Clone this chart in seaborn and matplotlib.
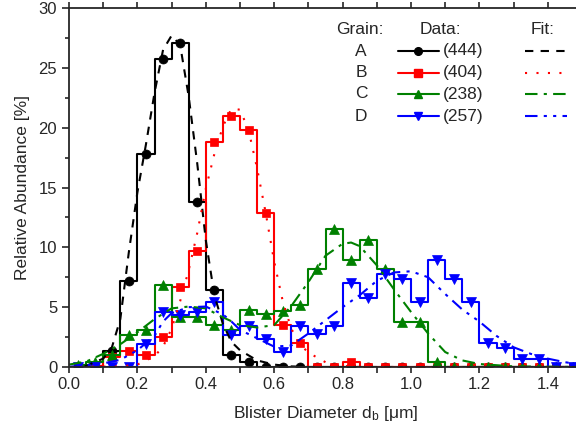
import matplotlib
matplotlib.use("Agg")
import matplotlib.pyplot as plt
from matplotlib.lines import Line2D
from matplotlib.ticker import MultipleLocator
import seaborn as sns

# bin centres (0.05 wide bins)
bin_centers = [0.025, 0.075, 0.125, 0.175, 0.225, 0.275, 0.325, 0.375, 0.425, 0.475,
               0.525, 0.575, 0.625, 0.675, 0.725, 0.775, 0.825, 0.875, 0.925, 0.975,
               1.025, 1.075, 1.125, 1.175, 1.225, 1.275, 1.325, 1.375, 1.425, 1.475]

grain_a = [0.0, 0.1, 1.3, 7.2, 17.8, 25.7, 27.1, 13.8, 6.4, 1.0,
           0.45, 0.0, 0.0, 0.0, 0.0, 0.0, 0.0, 0.0, 0.0, 0.0,
           0.0, 0.0, 0.0, 0.0, 0.0, 0.0, 0.0, 0.0, 0.0, 0.0]
grain_b = [0.0, 0.1, 0.85, 1.3, 1.0, 2.5, 6.7, 9.7, 18.8, 21.0,
           19.8, 12.9, 3.5, 2.0, 0.0, 0.0, 0.4, 0.0, 0.0, 0.0,
           0.0, 0.0, 0.0, 0.0, 0.0, 0.0, 0.0, 0.0, 0.0, 0.0]
grain_c = [0.2, 0.45, 1.0, 2.7, 3.1, 6.85, 4.2, 4.2, 3.5, 3.1,
           4.8, 4.4, 4.7, 5.2, 8.2, 11.5, 8.9, 10.6, 8.2, 3.8,
           3.8, 0.45, 0.0, 0.0, 0.0, 0.0, 0.0, 0.0, 0.0, 0.0]
grain_d = [0.0, 0.0, 0.0, 0.0, 1.9, 4.6, 4.35, 4.6, 5.4, 2.7,
           3.4, 2.35, 1.25, 3.45, 2.75, 3.4, 7.0, 5.8, 7.8, 7.35,
           5.4, 8.95, 7.35, 5.4, 2.0, 1.55, 0.7, 0.7, 0.0, 0.0]

# fit curves
fit_a_x = [0.0, 0.05, 0.1, 0.125, 0.15, 0.175, 0.2, 0.225, 0.25, 0.275, 0.3, 0.325,
           0.35, 0.375, 0.4, 0.425, 0.45, 0.475, 0.5, 0.55, 0.6, 0.65, 0.7, 1.5]
fit_a_y = [0.0, 0.1, 0.7, 1.6, 4.0, 9.6, 14.6, 18.6, 22.9, 26.5, 27.7, 26.9,
           22.6, 17.0, 10.6, 6.0, 3.6, 2.1, 1.4, 0.55, 0.2, 0.05, 0.0, 0.0]

fit_b_x = [0.0, 0.15, 0.2, 0.25, 0.275, 0.3, 0.325, 0.35, 0.375, 0.4, 0.425, 0.45,
           0.475, 0.5, 0.525, 0.55, 0.575, 0.6, 0.625, 0.65, 0.675, 0.7, 0.75, 0.8, 0.85, 1.5]
fit_b_y = [0.0, 0.05, 0.2, 0.9, 1.7, 3.2, 5.5, 8.1, 11.2, 14.9, 17.8, 20.1,
           21.6, 21.5, 19.8, 16.6, 12.9, 8.8, 5.5, 3.2, 1.9, 1.2, 0.4, 0.1, 0.0, 0.0]

fit_c_x = [0.0, 0.05, 0.1, 0.15, 0.2, 0.25, 0.3, 0.35, 0.4, 0.45, 0.5, 0.55, 0.6,
           0.65, 0.7, 0.75, 0.8, 0.825, 0.85, 0.9, 0.95, 1.0, 1.05, 1.1, 1.15, 1.2,
           1.3, 1.5]
fit_c_y = [0.2, 0.45, 1.1, 1.9, 2.9, 4.0, 4.9, 5.05, 4.9, 4.15, 3.5, 3.3, 3.5,
           5.1, 7.1, 9.3, 10.3, 10.4, 10.1, 8.5, 6.5, 4.6, 2.8, 1.25, 0.55, 0.25,
           0.05, 0.0]

fit_d_x = [0.0, 0.1, 0.15, 0.2, 0.25, 0.275, 0.3, 0.35, 0.4, 0.45, 0.475, 0.5,
           0.55, 0.6, 0.65, 0.7, 0.75, 0.8, 0.85, 0.9, 0.95, 1.0, 1.05, 1.1, 1.15,
           1.2, 1.25, 1.3, 1.35, 1.4, 1.45, 1.5]
fit_d_y = [0.0, 0.3, 0.6, 1.4, 2.6, 3.8, 4.5, 5.0, 5.05, 4.4, 3.8, 3.1,
           2.4, 1.7, 1.8, 2.8, 3.9, 5.0, 6.0, 7.2, 7.9, 8.0, 7.5, 6.1, 4.8,
           3.8, 2.6, 1.65, 1.1, 0.7, 0.4, 0.2]

grains = ["A", "B", "C", "D"]
counts = ["(444)", "(404)", "(238)", "(257)"]

sns.set_style("ticks")
plt.rcParams["font.family"] = ["Liberation Sans", "DejaVu Sans"]
plt.rcParams["mathtext.fontset"] = "custom"
plt.rcParams["mathtext.rm"] = "Liberation Sans"
plt.rcParams["mathtext.it"] = "Liberation Sans:italic"

W, H = 576, 430
fig = plt.figure(figsize=(5.76, 4.3), dpi=100)
# axes run past the right edge, as in the reference
ax = fig.add_axes([69 / W, (H - 367) / H, (582 - 69) / W, (367 - 8) / H])

colors = ["black", "red", "green", "blue"]
markers = ["o", "s", "^", "v"]
msizes = [6.5, 6.0, 7.5, 7.5]
fit_styles = [(0, (4, 3.5)), (0, (1, 4.5)), (0, (6, 3, 1.5, 3)), (0, (6, 3, 1.5, 3, 1.5, 3))]
data = [grain_a, grain_b, grain_c, grain_d]
fits = [(fit_a_x, fit_a_y), (fit_b_x, fit_b_y), (fit_c_x, fit_c_y), (fit_d_x, fit_d_y)]

for vals, col, mk, ms in zip(data, colors, markers, msizes):
    sns.lineplot(x=bin_centers, y=vals, ax=ax, color=col, marker=mk, markersize=ms,
                 markeredgecolor=col, markeredgewidth=0.5, drawstyle="steps-mid",
                 linewidth=1.5, estimator=None, sort=False)

for (fx, fy), col, ls in zip(fits, colors, fit_styles):
    sns.lineplot(x=fx, y=fy, ax=ax, color=col, linestyle=ls, linewidth=1.5,
                 estimator=None, sort=False)

ax.set_xlim(0, 1.5)
ax.set_ylim(0, 30)
ax.xaxis.set_major_locator(MultipleLocator(0.2))
ax.xaxis.set_minor_locator(MultipleLocator(0.1))
ax.yaxis.set_major_locator(MultipleLocator(5))
ax.yaxis.set_minor_locator(MultipleLocator(2.5))
ax.xaxis.set_major_formatter(plt.FormatStrFormatter("%.1f"))
ax.tick_params(axis="x", which="both", direction="out", length=4.5, width=1.2,
               top=True, labelsize=12, pad=3)
ax.tick_params(axis="y", which="major", direction="out", length=5, width=1.2, labelsize=12)
ax.tick_params(axis="y", which="minor", direction="out", length=3, width=1.2)
ax.tick_params(axis="x", which="both", top=True)
for s in ["left", "bottom", "top"]:
    ax.spines[s].set_linewidth(1.3)
ax.spines["right"].set_visible(False)

ax.set_xlabel(r"Blister Diameter d$_{\mathrm{b}}$ [μm]", fontsize=12.5, labelpad=8)
ax.set_ylabel("Relative Abundance [%]", fontsize=12.5, labelpad=6)

# hand-made legend table
def fx(px):
    return px / W

def fy(py):
    return 1 - py / H

fs = 12.5
fig.text(fx(360), fy(29), "Grain:", ha="center", va="center", fontsize=fs)
fig.text(fx(440), fy(29), "Data:", ha="center", va="center", fontsize=fs)
fig.text(fx(543), fy(29), "Fit:", ha="center", va="center", fontsize=fs)
rows = [51, 72.5, 94, 116]
for g, n, col, mk, ms, ls, ry in zip(grains, counts, colors, markers, msizes, fit_styles, rows):
    fig.text(fx(361), fy(ry), g, ha="center", va="center", fontsize=fs)
    fig.add_artist(Line2D([fx(398), fx(439)], [fy(ry), fy(ry)], transform=fig.transFigure,
                          color=col, linewidth=1.5))
    fig.add_artist(Line2D([fx(418)], [fy(ry)], transform=fig.transFigure, color=col,
                          marker=mk, markersize=ms * 0.85, markeredgecolor=col))
    fig.text(fx(443), fy(ry), n, ha="left", va="center", fontsize=fs)
    fig.add_artist(Line2D([fx(525), fx(567)], [fy(ry), fy(ry)], transform=fig.transFigure,
                          color=col, linewidth=1.5, linestyle=ls))

fig.savefig("out.png", dpi=100)
